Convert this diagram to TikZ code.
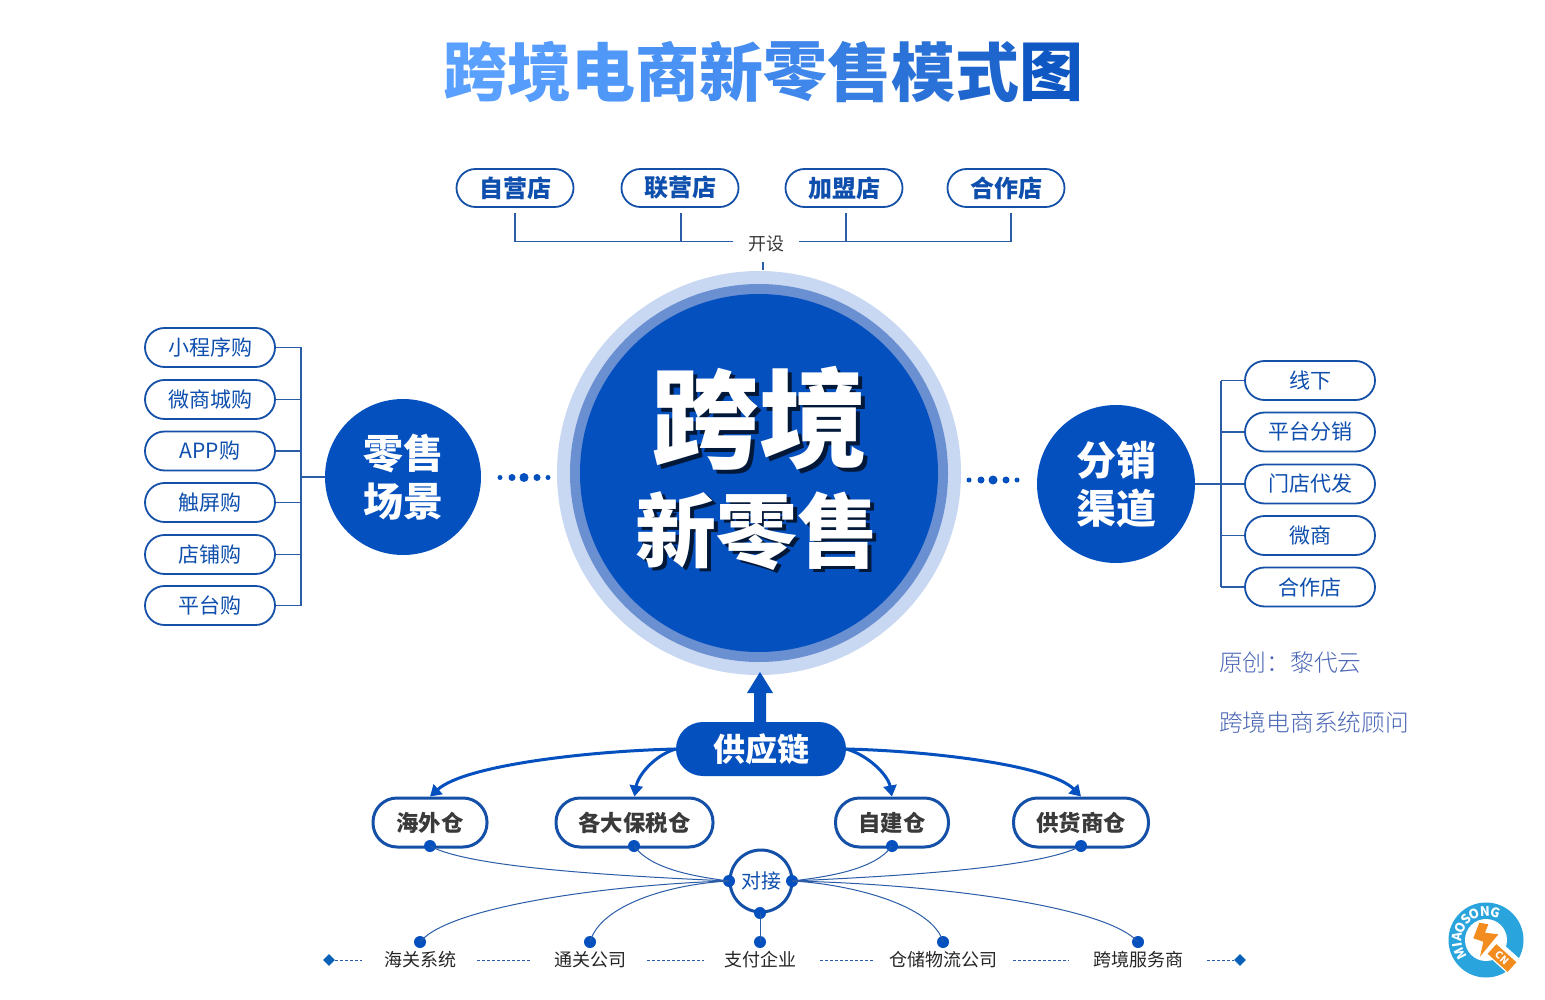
\documentclass[tikz,border=0pt]{standalone}
\usepackage{fontspec}
\setmainfont{Noto Sans CJK SC}
\newfontfamily\cjkblack{Noto Sans CJK SC Black}
\newfontfamily\cjkbold{Noto Sans CJK SC Bold}
\newfontfamily\cjkreg{Noto Sans CJK SC}
\newfontfamily\cjklight{Noto Sans CJK SC Light}
\usetikzlibrary{arrows.meta,shapes.geometric}
\definecolor{mainblue}{HTML}{0550BF}
\definecolor{linkblue}{HTML}{2A5CA8}
\definecolor{ringlight}{HTML}{C9D8F2}
\definecolor{ringmid}{HTML}{6A90D2}
\definecolor{pillline}{HTML}{1550A8}
\definecolor{textblue}{HTML}{0E4FAE}
\definecolor{darktext}{HTML}{3A3A3A}
\definecolor{credit}{HTML}{4A66B5}
\definecolor{logocyan}{HTML}{2AA4DC}
\definecolor{logoorange}{HTML}{F28C1E}
\definecolor{diamondblue}{HTML}{0A62B8}
\definecolor{t1}{HTML}{5AA0FF}
\definecolor{t2}{HTML}{559CFC}
\definecolor{t3}{HTML}{4F98F8}
\definecolor{t4}{HTML}{4A92F4}
\definecolor{t5}{HTML}{458DF0}
\definecolor{t6}{HTML}{3F87EA}
\definecolor{t7}{HTML}{367EE2}
\definecolor{t8}{HTML}{2A72D8}
\definecolor{t9}{HTML}{1E66CE}
\definecolor{t10}{HTML}{0F57C2}
\tikzset{
  toppill/.style={draw=pillline,line width=1.8pt,rounded corners=19pt,minimum width=117pt,minimum height=38pt,inner sep=0pt,font=\cjkblack\fontsize{24}{24}\selectfont,text=textblue,fill=white},
  sidepill/.style={draw=pillline,line width=1.8pt,rounded corners=19.5pt,minimum width=130pt,minimum height=39pt,inner sep=0pt,font=\cjkreg\fontsize{21}{21}\selectfont,text=textblue,fill=white},
  wh/.style={draw=pillline,line width=3pt,rounded corners=24pt,minimum height=49pt,inner sep=0pt,font=\cjkblack\fontsize{22.4}{24}\selectfont,text=darktext,fill=white},
  hub/.style={circle,fill=mainblue,inner sep=0pt,text=white,font=\cjkblack\fontsize{40}{48}\selectfont,align=center},
  thin/.style={draw=linkblue,line width=1.1pt},
  curve/.style={draw=linkblue,line width=1pt},
  feed/.style={draw=mainblue,line width=3pt,-{Triangle[length=11pt,width=13pt]}},
  pin/.style={circle,fill=mainblue,inner sep=0pt,minimum size=12pt},
  bottomlabel/.style={inner sep=0pt,text=black!85,font=\cjkreg\fontsize{18}{18}\selectfont},
  dashlink/.style={draw=linkblue,line width=.8pt,dash pattern=on 3pt off 2pt},
  endmark/.style={diamond,fill=diamondblue,inner sep=0pt,minimum size=12pt},
  creditline/.style={anchor=west,inner sep=0pt,text=credit,font=\cjklight\fontsize{23.7}{24}\selectfont},
  bigtxt/.style={inner sep=0pt,text=white},
  walk/.style={circle,fill=mainblue,inner sep=0pt},
}
\begin{document}
\begin{tikzpicture}[x=1pt,y=-1pt]
\useasboundingbox[fill=white] (0,0) rectangle (1545,1000);
% title
\foreach \c/\ch [count=\i from 0] in {t1/跨,t2/境,t3/电,t4/商,t5/新,t6/零,t7/售,t8/模,t9/式,t10/图}{
  \node[inner sep=0pt,text=\c,font=\cjkblack\fontsize{64}{64}\selectfont] (title\i) at ({475+64*\i},72) {\ch};
}
% central
\node[circle,fill=ringlight,minimum size=404pt,inner sep=0pt] (outer) at (759,473) {};
\node[circle,fill=ringmid,minimum size=378pt,inner sep=0pt] (mid) at (759,473) {};
\node[circle,fill=mainblue,minimum size=358pt,inner sep=0pt] (core) at (759,473) {};
\node[bigtxt,text=black!70!mainblue,font=\cjkblack\fontsize{108}{108}\selectfont] at (763,422) {跨境};
\node[bigtxt,font=\cjkblack\fontsize{108}{108}\selectfont] (kj) at (759,418.5) {跨境};
\node[bigtxt,text=black!70!mainblue,font=\cjkblack\fontsize{81}{81}\selectfont] at (760.5,534) {新零售};
\node[bigtxt,font=\cjkblack\fontsize{81}{81}\selectfont] (xls) at (757,531) {新零售};
% top
\node[toppill] (p1) at (515,188) {自营店};
\node[toppill] (p2) at (680,188) {联营店};
\node[toppill] (p3) at (844,188) {加盟店};
\node[toppill] (p4) at (1006,188) {合作店};
\node[inner sep=0pt,text=darktext,font=\cjkreg\fontsize{18}{18}\selectfont] (ks) at (766,244) {开设};
\coordinate (b1) at (515,241.5); \coordinate (b2) at (681,241.5);
\coordinate (b3) at (846,241.5); \coordinate (b4) at (1011,241.5);
\coordinate (bl) at (733,241.5); \coordinate (br) at (799,241.5);
\draw[thin] (515,213) -- (b1) -- (bl);
\draw[thin] (681,213) -- (b2);
\draw[thin] (846,213) -- (b3);
\draw[thin] (1011,213) -- (b4) -- (br);
\draw[thin] (763,262) -- (763,270);
% left hub
\node[hub,minimum size=156pt] (ls) at (403,477) {零售\\场景};
\foreach \n/\y/\t in {a/347.5/小程序购,b/399.5/微商城购,c/451/APP购,d/502.5/触屏购,e/554.5/店铺购,f/605.5/平台购}{
  \node[sidepill] (l\n) at (210,\y) {\t};
  \draw[thin] (l\n.east) -- (301,\y);
}
\draw[thin] (301,347.5) -- (301,605.5);
\draw[thin] (301,477) -- (325,477);
% right hub
\node[hub,minimum size=158pt] (fx) at (1116,484) {分销\\渠道};
\foreach \n/\y/\t in {a/380.5/线下,b/432/平台分销,c/484/门店代发,d/535.5/微商,e/587/合作店}{
  \node[sidepill] (r\n) at (1310,\y) {\t};
  \draw[thin] (r\n.west) -- (1221,\y);
}
\draw[thin] (1221,380.5) -- (1221,587);
\draw[thin] (fx.east) -- (rc.west);
% dots
\foreach \x/\s in {500/5,512/7,524/9,537/7,548/5}{ \node[walk,minimum size=\s pt] at (\x,477.5) {}; }
\foreach \x/\s in {969/5,981/7,993/9,1006/7,1017/5}{ \node[walk,minimum size=\s pt] at (\x,480) {}; }
% supply
\node[circle,inner sep=0pt,minimum size=1pt] (tip) at (760,672) {};
\draw[draw=none,fill=mainblue] (754,724) -- (754,693) -- (747,693) -- (tip.center) -- (773,693) -- (766,693) -- (766,724) -- cycle;
\node[fill=mainblue,rounded corners=27pt,minimum width=170pt,minimum height=54pt,inner sep=0pt,text=white,font=\cjkblack\fontsize{32}{32}\selectfont] (sc) at (761,749) {供应链};
\node[wh,minimum width=114pt] (w1) at (430,822.5) {海外仓};
\node[wh,minimum width=157pt] (w2) at (634.5,822.5) {各大保税仓};
\node[wh,minimum width=113pt] (w3) at (892,822.5) {自建仓};
\node[wh,minimum width=135pt] (w4) at (1081,822.5) {供货商仓};
\draw[feed] (sc.west) .. controls (590,751) and (465,765) .. (w1.north);
\draw[feed] (sc.west) .. controls (655,755) and (638,775) .. (w2.north);
\draw[feed] (sc.east) .. controls (868,755) and (888,775) .. (w3.north);
\draw[feed] (sc.east) .. controls (930,751) and (1050,765) .. (w4.north);
% duijie
\node[circle,draw=pillline,line width=3pt,fill=white,minimum size=62pt,inner sep=0pt,text=textblue,font=\cjkreg\fontsize{20}{20}\selectfont] (dj) at (761,881) {对接};
\node[pin] (djl) at (729,881) {};
\node[pin] (djr) at (792,881) {};
\node[pin] (djb) at (760,913) {};
\foreach \n/\x in {1/430,2/634,3/892,4/1081}{ \node[pin] (wp\n) at (\x,846) {}; }
\foreach \n/\x/\t in {1/420/海关系统,2/590/通关公司,3/760/支付企业,4/943/仓储物流公司,5/1138/跨境服务商}{
  \node[pin] (bp\n) at (\x,942) {};
  \node[bottomlabel] (bt\n) at (\x,960) {\t};
}
\draw[curve] (wp1.center) .. controls (470,868) and (620,876) .. (djl.center);
\draw[curve] (wp2.center) .. controls (650,868) and (690,876) .. (djl.center);
\draw[curve] (wp3.center) .. controls (876,868) and (835,876) .. (djr.center);
\draw[curve] (wp4.center) .. controls (1040,868) and (900,876) .. (djr.center);
\draw[curve] (bp1.center) .. controls (450,905) and (620,884) .. (djl.center);
\draw[curve] (bp2.center) .. controls (600,905) and (670,884) .. (djl.center);
\draw[curve] (bp4.center) .. controls (933,905) and (850,884) .. (djr.center);
\draw[curve] (bp5.center) .. controls (1105,905) and (930,884) .. (djr.center);
\draw[curve] (djb.center) -- (bp3.center);
% dashes
\node[endmark] (dl) at (329,960) {};
\node[endmark] (dr) at (1240,960) {};
\coordinate (da) at (362,960); \coordinate (db) at (477,960); \coordinate (dc) at (531,960);
\coordinate (dd) at (647,960); \coordinate (de) at (704,960); \coordinate (df) at (820,960);
\coordinate (dg) at (873,960); \coordinate (dh) at (1013,960); \coordinate (di) at (1069,960);
\coordinate (dj2) at (1207,960);
\draw[dashlink] (dl) -- (da);
\draw[dashlink] (db) -- (dc);
\draw[dashlink] (dd) -- (de);
\draw[dashlink] (df) -- (dg);
\draw[dashlink] (dh) -- (di);
\draw[dashlink] (dj2) -- (dr);
% credit
\node[creditline] (c1) at (1219,662) {原创\char"FF1A 黎代云};
\node[creditline] (c2) at (1219,722) {跨境电商系统顾问};
% logo
\fill[logocyan] (1486,940) circle (37.5);
\fill[white] (1486,940) circle (21);
\foreach \ch/\a in {M/152,I/171,A/186,O/206,S/226,O/246,N/268,G/290}{
  \node[rotate=-\a-90,text=white,inner sep=0pt,font=\cjkblack\fontsize{13}{13}\selectfont] at ({1486+29*cos(\a)},{940+29*sin(\a)}) {\ch};
}
\fill[logoorange] (1479.3,922.7) -- (1488.3,924.3) -- (1485,932.7) -- (1498.3,934.3) -- (1480,956.7) -- (1483.3,941.7) -- (1473.3,938.3) -- cycle;
\node[rotate=-42,fill=white,minimum width=50pt,minimum height=19pt,inner sep=0pt] (cnbg) at (1510,963) {};
\node[rotate=-42,fill=logoorange,minimum width=27pt,minimum height=13pt,inner sep=0pt,text=white,font=\cjkblack\fontsize{10}{10}\selectfont] (cn) at (1502,958) {CN};
\end{tikzpicture}
\end{document}
